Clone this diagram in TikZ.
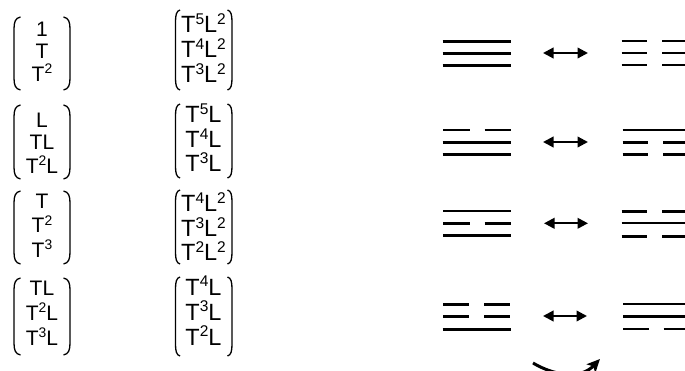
\documentclass[tikz,border=0pt]{standalone}
\usepackage{fontspec}
\usepackage{graphicx}
\setmainfont{Liberation Sans}
\usetikzlibrary{arrows.meta}

% raised, reduced exponent
\newcommand\up[1]{\raisebox{0.37em}{\scalebox{0.66}{#1}}}
% round bracket: x of the upright stroke, top, bottom, hook width (negative = closing)
\newcommand\brak[4]{%
  \draw[bracket] (#1+#4,#2) .. controls (#1+0.2*#4,#2+1) and (#1,#2+5) .. (#1,#2+12)
    -- (#1,#3-12) .. controls (#1,#3-5) and (#1+0.2*#4,#3-1) .. (#1+#4,#3);}
% trigram lines: left end x, height y, half length
\newcommand\yang[3]{\draw[yao] (#1,#2) -- (#1+2*#3+15,#2);}
\newcommand\yin[3]{\draw[yao] (#1,#2) -- (#1+#3,#2) (#1+#3+15,#2) -- (#1+2*#3+15,#2);}

\tikzset{
  entry/.style={anchor=base, inner sep=0pt, text height=0.85em, text depth=0pt},
  leftent/.style={entry, font=\fontsize{21}{25}\selectfont},
  rightent/.style={entry, font=\fontsize{23.5}{27}\selectfont},
  bracket/.style={line width=1.3pt},
  yao/.style={line width=2.5pt},
  swap/.style={line width=2.2pt, {Triangle[length=10.5pt,width=10.5pt]}-{Triangle[length=10.5pt,width=10.5pt]}},
  turn/.style={line width=3pt, -{Stealth[length=13pt,width=12pt,inset=3pt]}}
}

\begin{document}
\begin{tikzpicture}[x=1pt,y=-1pt]
\useasboundingbox (0,0) rectangle (685,371);
\clip (0,0) rectangle (685,371);

% ---- left column of vectors
\node[leftent] (a1) at (42,36.5) {1};
\node[leftent] (a2) at (42,58.5) {T};
\node[leftent] (a3) at (42,81.5) {T\up{2}};
\brak{14}{17}{90}{6.5} \brak{70}{17}{90}{-6.5}

\node[leftent] (b1) at (42,127.5) {L};
\node[leftent] (b2) at (42,150) {TL};
\node[leftent] (b3) at (42,173.5) {T\up{2}L};
\brak{14}{105}{179}{6.5} \brak{70}{105}{179}{-6.5}

\node[leftent] (c1) at (42,208.5) {T};
\node[leftent] (c2) at (42,233) {T\up{2}};
\node[leftent] (c3) at (42,257.5) {T\up{3}};
\brak{14}{191}{264}{6.5} \brak{70}{191}{264}{-6.5}

\node[leftent] (d1) at (42,295) {TL};
\node[leftent] (d2) at (42,320) {T\up{2}L};
\node[leftent] (d3) at (42,345) {T\up{3}L};
\brak{14}{278}{355}{6.5} \brak{70}{278}{355}{-6.5}

% ---- right column of vectors
\node[rightent] (e1) at (203.5,33) {T\up{5}L\up{2}};
\node[rightent] (e2) at (203.5,58) {T\up{4}L\up{2}};
\node[rightent] (e3) at (203.5,83) {T\up{3}L\up{2}};
\brak{175.5}{10}{90}{4.5} \brak{232}{10}{90}{-4.5}

\node[rightent] (f1) at (203.5,123) {T\up{5}L};
\node[rightent] (f2) at (203.5,148) {T\up{4}L};
\node[rightent] (f3) at (203.5,172) {T\up{3}L};
\brak{175.5}{104}{178}{4.5} \brak{232}{104}{178}{-4.5}

\node[rightent] (g1) at (203.5,212) {T\up{4}L\up{2}};
\node[rightent] (g2) at (203.5,237) {T\up{3}L\up{2}};
\node[rightent] (g3) at (203.5,261) {T\up{2}L\up{2}};
\brak{175.5}{190}{264}{4.5} \brak{232}{190}{264}{-4.5}

\node[rightent] (h1) at (203.5,295) {T\up{4}L};
\node[rightent] (h2) at (203.5,320) {T\up{3}L};
\node[rightent] (h3) at (203.5,345) {T\up{2}L};
\brak{175.5}{277}{356}{4.5} \brak{232}{277}{356}{-4.5}

% ---- trigram pairs
\yang{442.5}{41.5}{26.5} \yang{442.5}{53.5}{26.5} \yang{442.5}{65.5}{26.5}
\yin{621.5}{41}{25.5}    \yin{621.5}{53}{25.5}    \yin{621.5}{65}{25.5}

\yin{443}{130}{26.5}     \yang{442.5}{142.5}{26.5} \yang{442.5}{154.5}{26.5}
\yang{622.5}{130}{25.5}  \yin{622.5}{142.7}{25.5}  \yin{622.5}{154.3}{25.5}

\yang{443}{211}{26.5}    \yin{443}{223.3}{26.5}    \yang{443}{235.5}{26.5}
\yin{621.5}{211.3}{25.5} \yang{621.5}{223}{25.5}   \yin{621.5}{236.5}{25.5}

\yin{443}{304.3}{26}     \yin{443}{316.7}{26}      \yang{442.5}{329.3}{26.5}
\yang{623}{304}{25.5}    \yang{623}{316.3}{25.5}   \yin{623}{329}{25.5}

% ---- exchange arrows
\coordinate (s1a) at (543,53);    \coordinate (s1b) at (588,53);
\coordinate (s2a) at (543,142);   \coordinate (s2b) at (588,142);
\coordinate (s3a) at (544,223.3); \coordinate (s3b) at (588,223.3);
\coordinate (s4a) at (543,316);   \coordinate (s4b) at (587,316);
\draw[swap] (s1a) -- (s1b);
\draw[swap] (s2a) -- (s2b);
\draw[swap] (s3a) -- (s3b);
\draw[swap] (s4a) -- (s4b);

% ---- turning arrow below
\coordinate (t0) at (533,363);
\coordinate (t1) at (600,359);
\draw[turn] (t0) .. controls (553,375) and (580,380) .. (t1);
\end{tikzpicture}
\end{document}
